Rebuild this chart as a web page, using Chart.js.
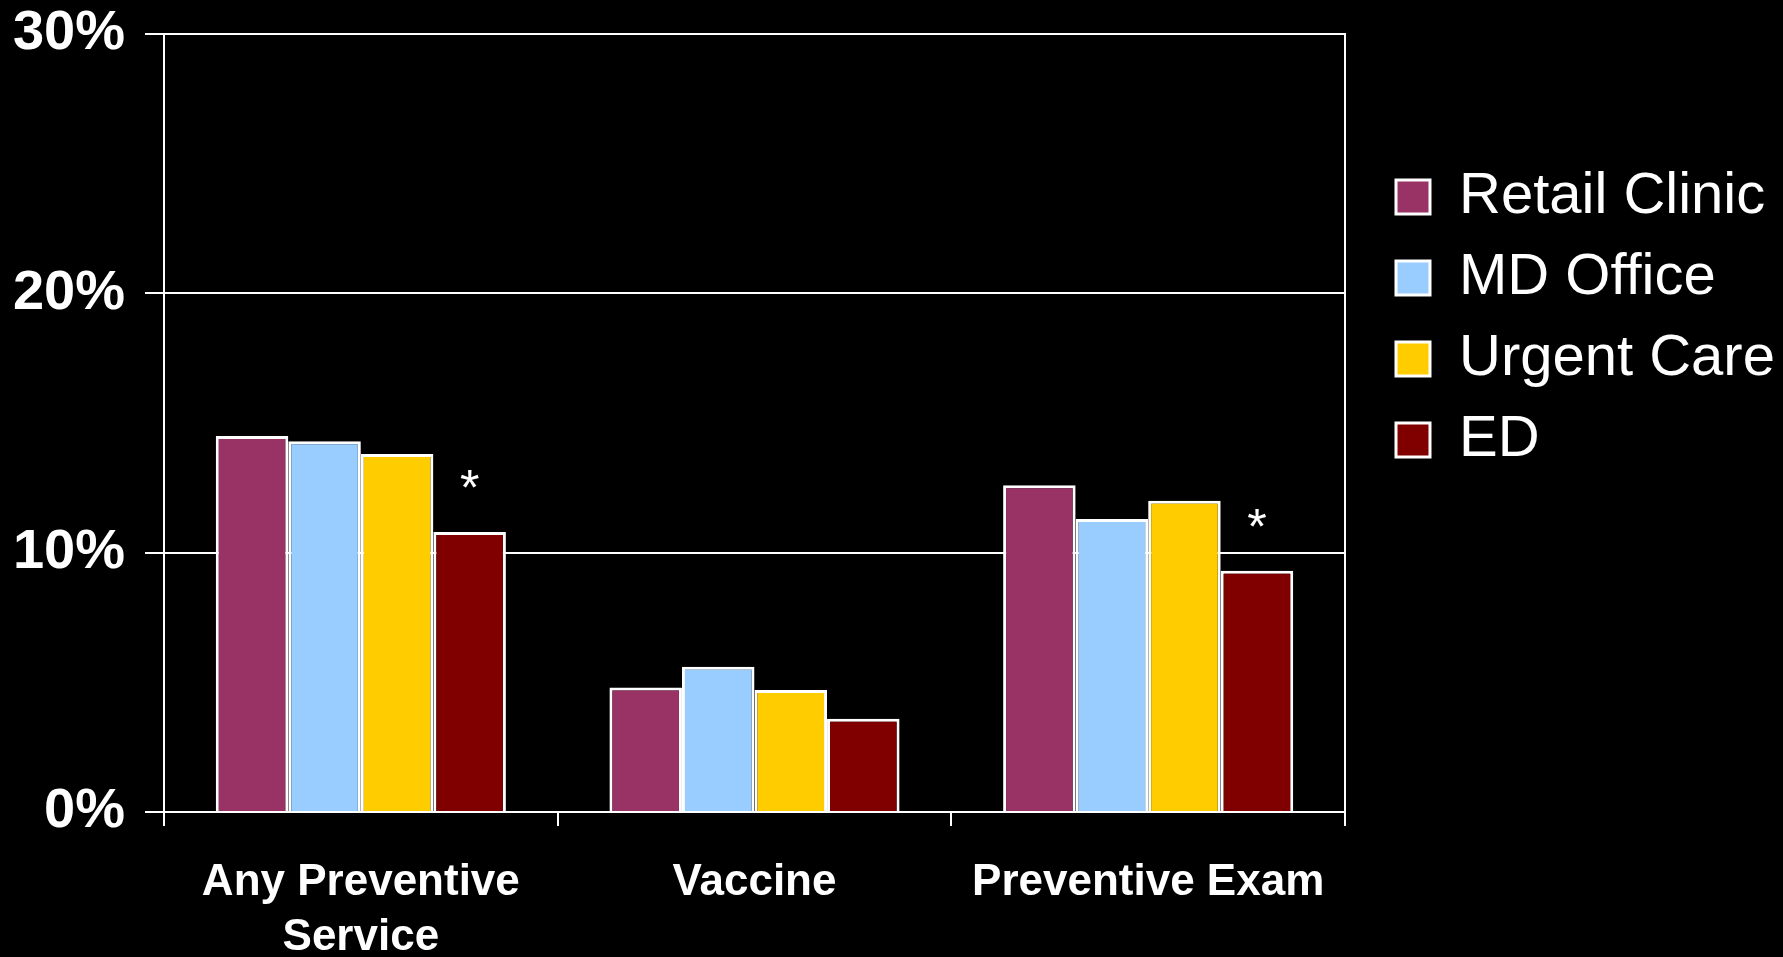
<!DOCTYPE html>
<html>
<head>
<meta charset="utf-8">
<script src="https://cdn.jsdelivr.net/npm/chart.js@4"></script>
<style>
  html, body { margin: 0; padding: 0; background: #000; overflow: hidden; }
  #wrap { width: 1783px; height: 957px; position: relative; }
</style>
</head>
<body>
<div id="wrap"><canvas id="myChart"></canvas></div>
<script>
// Categorias y valores (%)
var categorias = [['Any Preventive', 'Service'], 'Vaccine', 'Preventive Exam'];
var retailClinic = [14.5, 4.8, 12.6];
var mdOffice = [14.3, 5.6, 11.3];
var urgentCare = [13.8, 4.7, 12.0];
var ed = [10.8, 3.6, 9.3];
// categorias marcadas con asterisco en la serie ED
var marcados = [0, 2];
var yTicks = [0, 10, 20, 30];

Chart.defaults.font.family = "'Liberation Sans', Arial, sans-serif";
Chart.defaults.color = '#fff';

// dibuja el * sobre las barras de ED
var asteriscos = {
  id: 'asteriscos',
  afterDatasetsDraw: function(chart) {
    var meta = chart.getDatasetMeta(3);
    var ctx = chart.ctx;
    ctx.save();
    ctx.fillStyle = '#fff';
    ctx.font = "50px 'Liberation Sans', Arial, sans-serif";
    ctx.textAlign = 'center';
    ctx.textBaseline = 'alphabetic';
    marcados.forEach(function(i) {
      var bar = meta.data[i];
      ctx.fillText('*', bar.x, bar.y - 27);
    });
    ctx.restore();
  }
};

var ctx = document.getElementById('myChart').getContext('2d');
var myChart = new Chart(ctx, {
  type: 'bar',
  data: {
    labels: categorias,
    datasets: [
      { label: 'Retail Clinic', data: retailClinic, backgroundColor: '#993366' },
      { label: 'MD Office', data: mdOffice, backgroundColor: '#99CCFF' },
      { label: 'Urgent Care', data: urgentCare, backgroundColor: '#FFCC00' },
      { label: 'ED', data: ed, backgroundColor: '#800000' }
    ]
  },
  options: {
    responsive: true,
    maintainAspectRatio: false,
    animation: false,
    layout: { padding: 0 },
    datasets: {
      bar: {
        borderColor: '#fff',
        borderWidth: 3,
        categoryPercentage: 0.737,
        barPercentage: 1.0
      }
    },
    plugins: {
      tooltip: { enabled: false },
      legend: {
        position: 'right',
        align: 'start',
        maxWidth: 410,
        title: { display: true, text: ' ', font: { size: 10 }, padding: { top: 133, bottom: 0 } },
        labels: {
          color: '#fff',
          boxWidth: 34,
          boxHeight: 34,
          padding: 23,
          font: { size: 58 }
        }
      }
    },
    scales: {
      x: {
        afterFit: function(scale) { scale.height = 145; },
        grid: {
          color: '#fff',
          lineWidth: 2,
          drawOnChartArea: false,
          drawTicks: true,
          tickLength: 14
        },
        border: { color: '#fff', width: 2 },
        ticks: {
          color: '#fff',
          padding: 29,
          maxRotation: 0,
          font: { size: 44, weight: 'bold', lineHeight: 1.25 }
        }
      },
      y: {
        min: 0,
        max: 30,
        afterFit: function(scale) { scale.width = 164; },
        afterBuildTicks: function(scale) {
          scale.ticks = yTicks.map(function(v) { return { value: v }; });
        },
        grid: {
          color: '#fff',
          lineWidth: 2,
          drawTicks: true,
          tickLength: 19
        },
        border: { color: '#fff', width: 2 },
        ticks: {
          color: '#fff',
          padding: 20,
          font: { size: 56, weight: 'bold', lineHeight: 0.5 },
          callback: function(v) { return v + '%'; }
        }
      },
      y2: {
        position: 'right',
        afterFit: function(scale) { scale.width = 28; },
        grid: { display: false },
        ticks: { display: false },
        border: { color: '#fff', width: 2 }
      }
    }
  },
  plugins: [asteriscos]
});
</script>
</body>
</html>
